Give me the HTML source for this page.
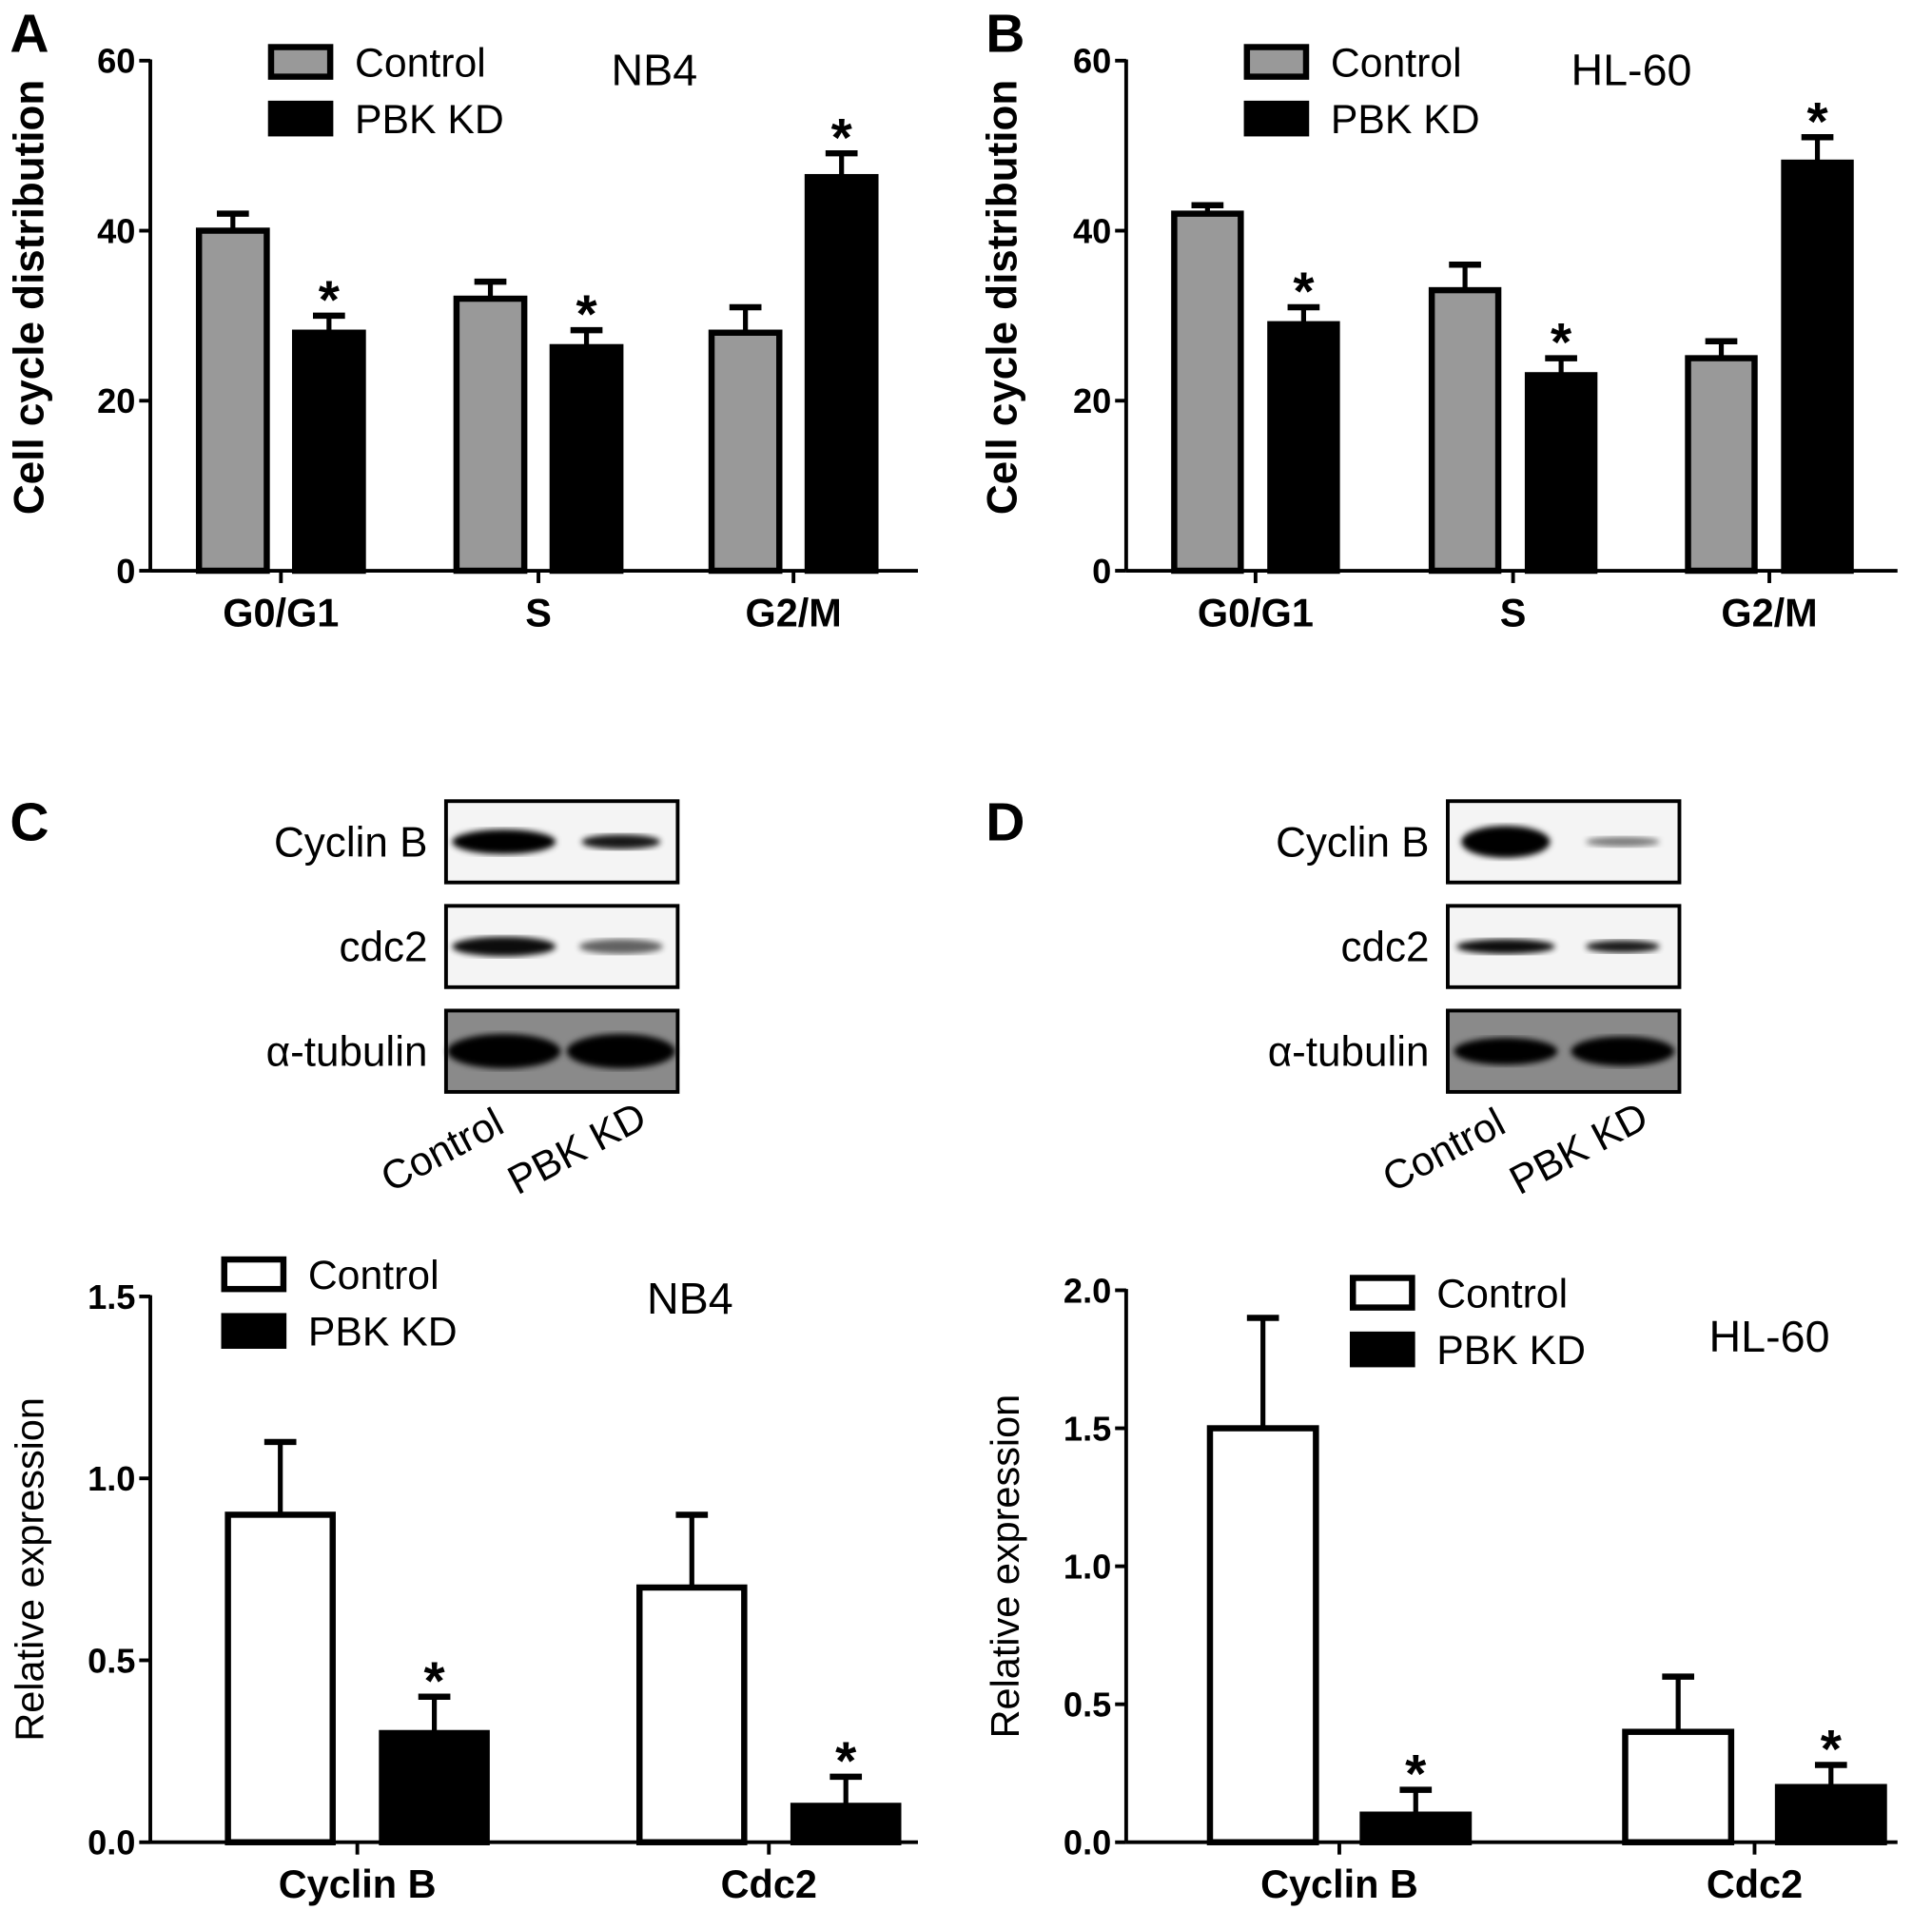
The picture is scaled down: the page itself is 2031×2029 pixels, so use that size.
<!DOCTYPE html>
<html><head><meta charset="utf-8"><style>
html,body{margin:0;padding:0;background:#fff}
svg{display:block}
text{font-family:"Liberation Sans",sans-serif}
</style></head><body>
<svg id="fig" width="2031" height="2029" viewBox="0 0 1568 1566">
<defs>
<filter id="blur2"><feGaussianBlur stdDeviation="2.5"/></filter>
</defs>
<g id="root"></g>
</svg>
<script>
// ---- data ----
const cycleCats = ["G0/G1","S","G2/M"];
const nb4Control = [40,32,28];
const nb4ControlErr = [2,2,3];
const nb4KD = [28,26.3,46.3];
const nb4KDErr = [2,2,2.8];
const hlControl = [42,33,25];
const hlControlErr = [1,3,2];
const hlKD = [29,23,48];
const hlKDErr = [2,2,3];
const cycleTicks = [0,20,40,60];

const exprCats = ["Cyclin B","Cdc2"];
const nb4ExprControl = [0.9,0.7];
const nb4ExprControlErr = [0.2,0.2];
const nb4ExprKD = [0.3,0.1];
const nb4ExprKDErr = [0.1,0.08];
const hlExprControl = [1.5,0.4];
const hlExprControlErr = [0.4,0.2];
const hlExprKD = [0.1,0.2];
const hlExprKDErr = [0.09,0.08];
const nb4ExprTicks = [0.0,0.5,1.0,1.5];
const hlExprTicks = [0.0,0.5,1.0,1.5,2.0];

const NS="http://www.w3.org/2000/svg";
const root=document.getElementById('root');
function el(tag,attrs,parent,txt){const e=document.createElementNS(NS,tag);for(const k in attrs)e.setAttribute(k,attrs[k]);if(txt!==undefined)e.textContent=txt;(parent||root).appendChild(e);return e;}

function chart(o){
  const g=el('g',{});
  
  
  const y=v=>o.y0-(v/o.ymax)*(o.y0-o.ytop);
  const ya=el('line',{x1:o.ax,y1:y(o.ymax)-1,x2:o.ax,y2:o.y0,stroke:'#000','stroke-width':3},g);
  
  
  o.ticks.forEach(t=>{
    el('line',{x1:o.ax-9,y1:y(t),x2:o.ax,y2:y(t),stroke:'#000','stroke-width':3},g);
    const tl=el('text',{x:o.ax-12,y:y(t)+10,'text-anchor':'end','font-size':28,'font-weight':'bold'},g,o.fmt(t));
    
    
  });
  const xa=el('line',{x1:o.ax,y1:o.y0,x2:o.xend,y2:o.y0,stroke:'#000','stroke-width':3},g);
  
  
  o.cats.forEach((c,i)=>{
    const cx=(o.cx[i]);
    el('line',{x1:cx,y1:o.y0,x2:cx,y2:o.y0+10,stroke:'#000','stroke-width':3},g);
    const cl=el('text',{x:cx,y:o.y0+45,'text-anchor':'middle','font-size':32,'font-weight':'bold'},g,c);
    
    
    [[o.c,o.ce,o.cfill,-1],[o.k,o.ke,'#000',1]].forEach(([vals,errs,fill,side],j)=>{
      const x0 = side<0 ? cx-o.gap/2-o.bw : cx+o.gap/2;
      const v=vals[i], top=y(v), et=y(v+errs[i]);
      const xm=x0+o.bw/2;
      el('line',{x1:xm,y1:et,x2:xm,y2:top,stroke:'#000','stroke-width':4},g);
      el('line',{x1:xm-13,y1:et,x2:xm+13,y2:et,stroke:'#000','stroke-width':5},g);
      const b=el('rect',{x:x0,y:top,width:o.bw,height:o.y0-top,fill:fill,stroke:'#000','stroke-width':5},g);
      
      
      if(j===1){
        const s=el('text',{x:xm,y:et+2,'text-anchor':'middle','font-size':44,'font-weight':'bold'},g,'*');
        
        
      }
    });
  });
  const yt=el('text',{transform:`translate(${o.ytx},${(o.y0+o.ytop)/2+o.ytoff}) rotate(-90)`,'text-anchor':'middle','font-size':o.yts,'font-weight':o.ytw},g,o.ytitle);
  
  
  const L=o.leg;
  const l1=el('rect',{x:L.x,y:L.y,width:48,height:24,fill:o.cfill,stroke:'#000','stroke-width':5},g);
  
  
  el('text',{x:L.x+68,y:L.y+24,'font-size':33},g,'Control');
  const l2=el('rect',{x:L.x,y:L.y+46,width:48,height:24,fill:'#000',stroke:'#000','stroke-width':5},g);
  
  
  el('text',{x:L.x+68,y:L.y+70,'font-size':33},g,'PBK KD');
  const tt=el('text',{x:o.title[0],y:o.title[1],'text-anchor':'middle','font-size':36},g,o.title[2]);
  
  
}
const f0=t=>String(t), f1=t=>t.toFixed(1);
chart({name:'chart-a',ax:122,y0:463,ytop:49,ymax:60,xend:745,ticks:cycleTicks,fmt:f0,cats:cycleCats,cx:[228,437,644],gap:23,bw:55,
  c:nb4Control,ce:nb4ControlErr,k:nb4KD,ke:nb4KDErr,cfill:'#999',ytx:35,ytoff:-15,yts:34,ytw:'bold',ytitle:'Cell cycle distribution',
  leg:{x:220,y:38},title:[531,69,'NB4']});
chart({name:'chart-b',ax:914,y0:463,ytop:49,ymax:60,xend:1540,ticks:cycleTicks,fmt:f0,cats:cycleCats,cx:[1019,1228,1436],gap:24,bw:54,
  c:hlControl,ce:hlControlErr,k:hlKD,ke:hlKDErr,cfill:'#999',ytx:825,ytoff:-15,yts:34,ytw:'bold',ytitle:'Cell cycle distribution',
  leg:{x:1012,y:38},title:[1324,69,'HL-60']});
chart({name:'chart-c',ax:122,y0:1495,ytop:1052,ymax:1.5,xend:745,ticks:nb4ExprTicks,fmt:f1,cats:exprCats,cx:[290,624],gap:40,bw:85,
  c:nb4ExprControl,ce:nb4ExprControlErr,k:nb4ExprKD,ke:nb4ExprKDErr,cfill:'#fff',ytx:35,ytoff:0,yts:32,ytw:'normal',ytitle:'Relative expression',
  leg:{x:182,y:1022},title:[560,1066,'NB4']});
chart({name:'chart-d',ax:914,y0:1495,ytop:1047,ymax:2.0,xend:1540,ticks:hlExprTicks,fmt:f1,cats:exprCats,cx:[1087,1424],gap:38,bw:86,
  c:hlExprControl,ce:hlExprControlErr,k:hlExprKD,ke:hlExprKDErr,cfill:'#fff',ytx:827,ytoff:0,yts:32,ytw:'normal',ytitle:'Relative expression',
  leg:{x:1098,y:1037},title:[1436,1097,'HL-60']});

[['A',8,42],['B',800,42],['C',8,682],['D',800,682]].forEach(([t,x,yy])=>{
  const p=el('text',{x:x,y:yy,'font-size':44,'font-weight':'bold'},root,t);
  
  
});

function blot(bx,name,bands){
  const g=el('g',{});
  
  
  const rows=[[650,'Cyclin B'],[735,'cdc2'],[820,'α-tubulin']];
  rows.forEach(([ry,lab],i)=>{
    el('rect',{x:bx,y:ry,width:188,height:66,fill:i===2?'#8a8a8a':'#f4f4f4',stroke:'#000','stroke-width':3},g);
    bands[i].forEach((b,j)=>{
      el('ellipse',{cx:bx+47+j*95,cy:ry+33,rx:b[0],ry:b[1],fill:'#000',opacity:b[2],filter:'url(#blur2)'},g);
    });
    const t=el('text',{x:bx-15,y:ry+45,'text-anchor':'end','font-size':34,'font-family':'"DejaVu Sans Condensed","Liberation Sans",sans-serif'},g,lab);
    
    
  });
  el('text',{transform:`translate(${bx-45},${968}) rotate(-28)`,'font-size':33,'font-family':'"DejaVu Sans Condensed",sans-serif'},g,'Control');
  el('text',{transform:`translate(${bx+58},${970}) rotate(-28)`,'font-size':33,'font-family':'"DejaVu Sans Condensed",sans-serif'},g,'PBK KD');
}
blot(362,'western-blot-c',[[[42,10,1],[32,6,0.9]],[[42,8,0.95],[34,6,0.6]],[[46,14,1],[44,14,1]]]);
blot(1175,'western-blot-d',[[[36,13,1],[30,4,0.5]],[[40,6,0.95],[30,5,0.9]],[[42,11,1],[42,12,1]]]);
</script>
</body></html>
